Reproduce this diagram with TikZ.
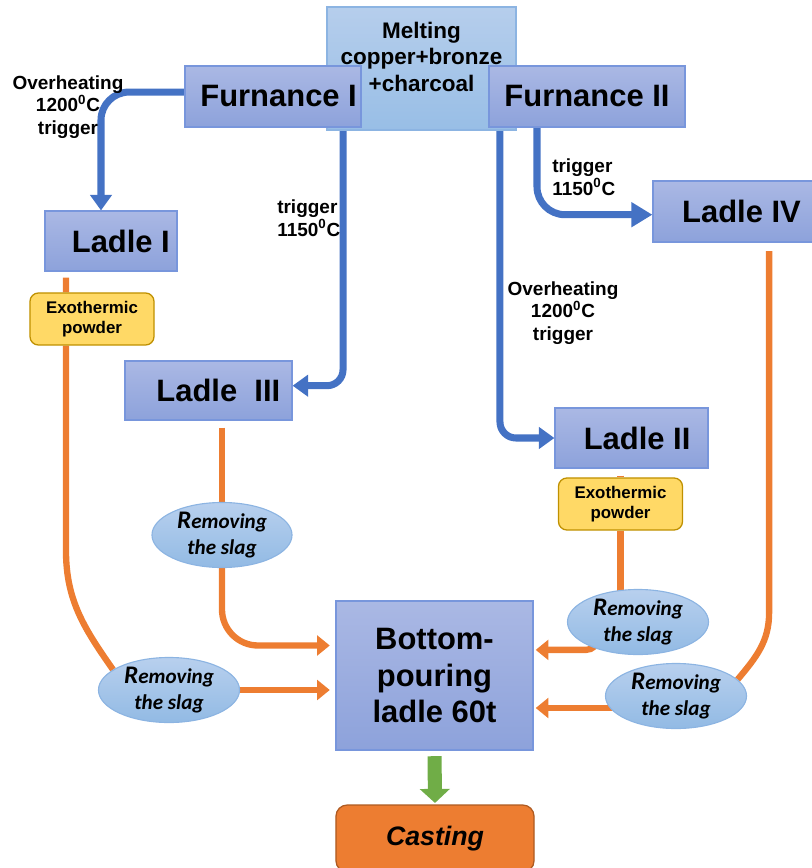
\documentclass[tikz,border=0pt]{standalone}
\usepackage{fontspec}
\setmainfont{Liberation Sans}
\newfontfamily\slagfont{Carlito}
\usetikzlibrary{shapes.geometric,arrows.meta}
\pgfdeclarelayer{background}
\pgfsetlayers{background,main}

\definecolor{boxtop}{RGB}{170,184,228}
\definecolor{boxbot}{RGB}{141,162,219}
\definecolor{boxline}{RGB}{120,150,220}
\definecolor{melttop}{RGB}{182,206,236}
\definecolor{meltbot}{RGB}{152,190,230}
\definecolor{slagtop}{RGB}{184,208,238}
\definecolor{slagbot}{RGB}{146,186,228}
\definecolor{slagline}{RGB}{140,180,226}
\definecolor{exofill}{RGB}{255,217,102}
\definecolor{exoline}{RGB}{191,144,0}
\definecolor{flowblue}{RGB}{68,114,196}
\definecolor{floworange}{RGB}{237,125,49}
\definecolor{flowgreen}{RGB}{112,173,71}
\definecolor{castline}{RGB}{174,90,33}

\begin{document}
\begin{tikzpicture}[x=0.025cm, y=-0.025cm,
    stage/.style={draw=boxline, line width=0.8pt, top color=boxtop, bottom color=boxbot,
        minimum height=1.5cm, inner sep=0pt, font=\fontsize{22}{26}\selectfont\bfseries},
    meltbox/.style={draw=slagline, line width=0.8pt, top color=melttop, bottom color=meltbot,
        minimum width=4.725cm, minimum height=3.075cm, inner sep=0pt},
    melttext/.style={align=center, inner sep=0pt, font=\fontsize{16}{19}\selectfont\bfseries},
    exo/.style={draw=exoline, line width=0.9pt, fill=exofill, rounded corners=6pt,
        minimum width=3.1cm, minimum height=1.3cm, inner sep=0pt, align=center,
        font=\fontsize{12}{14}\selectfont\bfseries},
    slag/.style={ellipse, draw=slagline, line width=0.8pt, top color=slagtop, bottom color=slagbot,
        minimum width=3.525cm, minimum height=1.45cm, inner sep=0pt, align=center,
        font=\slagfont\fontsize{15}{18.5}\selectfont\bfseries\itshape},
    cast/.style={draw=castline, line width=0.9pt, fill=floworange, rounded corners=8pt,
        minimum width=4.95cm, minimum height=1.675cm, inner sep=0pt,
        font=\fontsize{19}{22}\selectfont\bfseries\itshape},
    note/.style={align=center, inner sep=0pt, font=\fontsize{13.5}{16}\selectfont\bfseries},
    blueflow/.style={draw=flowblue, line width=5pt, -{Triangle[length=11pt,width=15pt]}},
    orangeflow/.style={draw=floworange, line width=4.5pt},
    orangetip/.style={orangeflow, -{Triangle[length=9pt,width=14pt]}},
    greenflow/.style={draw=flowgreen, line width=10pt, -{Triangle[length=10pt,width=21pt]}}]

    \useasboundingbox (0,0) rectangle (811,868);

    % furnaces
    \node[meltbox] (melt) at (421.5,68.5) {};
    \node[stage, minimum width=4.4cm, minimum height=1.525cm] (furn1) at (273,96.5) {\hspace*{8pt}Furnance I};
    \node[stage, minimum width=4.9cm, minimum height=1.525cm] (furn2) at (587,96.5) {Furnance II};
    \node[melttext] (meltlbl) at ([yshift=0.29cm]melt.center) {Melting\\copper+bronze\\+charcoal};

    % ladles
    \node[stage, minimum width=3.3cm] (ladle1) at (111,241) {\hspace*{14pt}Ladle I};
    \node[stage, minimum width=4.175cm, minimum height=1.475cm] (ladle3) at (208.5,390.5) {\hspace*{14pt}Ladle\ \ III};
    \node[stage, minimum width=3.825cm] (ladle2) at (631.5,438) {\hspace*{8pt}Ladle II};
    \node[stage, minimum width=4.425cm, minimum height=1.525cm] (ladle4) at (741.5,211.5) {Ladle IV};

    \node[exo] (exo1) at (92,319) {Exothermic\\powder};
    \node[exo] (exo2) at (620.5,504) {Exothermic\\powder};

    \node[slag, minimum width=3.5cm, minimum height=1.425cm] (slag3) at (222,535) {{\fontsize{18}{18.5}\selectfont R}emoving\\the slag};
    \node[slag] (slag1) at (169,690) {{\fontsize{18}{18.5}\selectfont R}emoving\\the slag};
    \node[slag] (slag2) at (638,622) {{\fontsize{18}{18.5}\selectfont R}emoving\\the slag};
    \node[slag] (slag4) at (676,696) {{\fontsize{18}{18.5}\selectfont R}emoving\\the slag};

    \node[stage, minimum width=4.925cm, minimum height=3.725cm, align=center] (pour) at (434.5,675.5) {Bottom-\\pouring\\ladle 60t};
    \node[cast] (cast) at (435,838.5) {Casting};

    % temperatures
    \node[note] (ovh1) at (68,107) {Overheating\\1200\textsuperscript{0}C\\trigger};
    \node[note, align=left, anchor=west] (trg1) at (277,218) {trigger\\1150\textsuperscript{0}C};
    \node[note, align=left, anchor=west] (trg2) at (552,177) {trigger\\1150\textsuperscript{0}C};
    \node[note] (ovh2) at (563,313) {Overheating\\1200\textsuperscript{0}C\\trigger};

    \coordinate (s4out) at ([yshift=-0.3cm]slag4.center);

    \begin{pgfonlayer}{background}
        \draw[blueflow, rounded corners=0.7cm] ([yshift=0.11cm]furn1.west) -| ([xshift=-0.25cm]ladle1.north);
        \draw[blueflow, rounded corners=0.4cm] ([xshift=1.75cm]furn1.south) |- ([yshift=0.12cm]ladle3.east);
        \draw[blueflow, rounded corners=0.4cm] ([xshift=-2.175cm]furn2.south) |- (ladle2.west);
        \draw[blueflow, -{Triangle[length=15pt,width=17pt]}, rounded corners=0.7cm]
            ([xshift=-1.25cm]furn2.south) |- ([yshift=-0.08cm]ladle4.west);

        \draw[orangeflow] ([xshift=-1.125cm,yshift=-0.15cm]ladle1.south) -- ([xshift=-0.65cm]exo1.north);
        \draw[orangeflow] ([xshift=-0.65cm]exo1.south) -- ++(0,205) to[out=-90,in=125] (slag1.160);
        \draw[orangetip, shorten >=4pt] (slag1.east) -- (slag1.east -| pour.west);

        \draw[orangeflow, shorten <=5pt] (slag3.north |- ladle3.south) -- (slag3.center);
        \draw[orangetip, rounded corners=0.9cm, shorten >=4pt] (slag3.center) |- ([yshift=0.75cm]pour.west);

        \draw[orangeflow, shorten <=5pt] (exo2.north |- ladle2.south) -- (exo2.north);
        \draw[orangeflow] (exo2.south) -- (exo2.south |- slag2.center);
        \draw[orangetip, rounded corners=0.3cm, shorten >=1.5pt] ([xshift=-1cm]slag2.center) |- ([yshift=0.64cm]pour.east);

        \draw[orangeflow, shorten <=6pt] ([xshift=0.69cm]ladle4.south) -- ++(0,370) to[out=-90,in=50] (slag4.15);
        \draw[orangetip, shorten >=1.5pt] (s4out) -- (s4out -| pour.east);

        \draw[greenflow, shorten <=4pt, shorten >=1pt] (pour.south) -- (cast.north);
    \end{pgfonlayer}

\end{tikzpicture}
\end{document}
